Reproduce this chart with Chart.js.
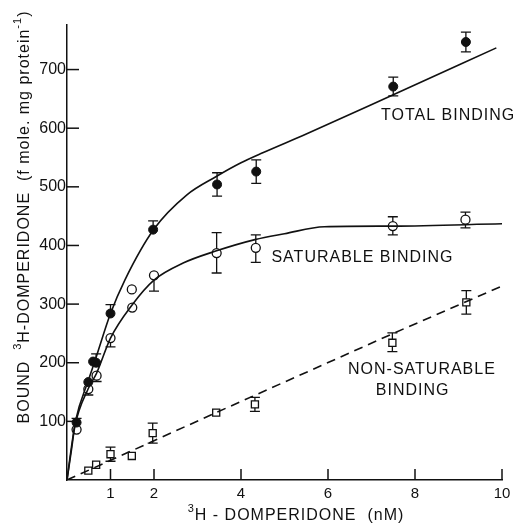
<!DOCTYPE html>
<html>
<head>
<meta charset="UTF-8">
<title>Domperidone binding</title>
<script src="https://cdn.jsdelivr.net/npm/chart.js"></script>
<style>
  html, body { margin: 0; padding: 0; background: #fff; }
  #wrap { width: 517px; height: 525px; }
</style>
</head>
<body>
<div id="wrap"><canvas id="bindChart" width="517" height="525"></canvas></div>
<script>
// tick labels
const xTicks = [1, 2, 4, 6, 8, 10];
const yTicks = [100, 200, 300, 400, 500, 600, 700];

// total binding (filled circles)
const totalX = [0.22, 0.49, 0.6, 0.67, 1.0, 1.98, 3.45, 4.35, 7.5, 9.17];
const totalY = [98, 167, 202, 200, 284, 427, 504, 526, 671, 747];
const totalUp = [7, 0, 0, 15, 15, 15, 20, 20, 16, 17];
const totalDown = [0, 0, 0, 0, 0, 0, 20, 20, 16, 17];

// saturable binding (open circles)
const satX = [0.22, 0.49, 0.68, 1.0, 1.49, 1.5, 2.0, 3.44, 4.34, 7.49, 9.16];
const satY = [86, 155, 178, 242, 325, 294, 349, 387, 396, 433, 444];
const satUp = [0, 0, 0, 0, 0, 0, 0, 35, 22, 16, 13];
const satDown = [0, 10, 10, 15, 0, 0, 27, 34, 25, 15, 14];

// non-saturable binding (open squares)
const nsX = [0.49, 0.67, 1.0, 1.49, 1.97, 3.43, 4.32, 7.48, 9.18];
const nsY = [16, 26, 44, 41, 80, 115, 129, 234, 303];
const nsUp = [0, 0, 12, 0, 17, 0, 12, 17, 20];
const nsDown = [0, 0, 12, 0, 17, 0, 12, 15, 20];

// fitted curves as drawn in the figure
const totalCurveX = [0, 0.1, 0.2, 0.5, 0.65, 1.0, 1.33, 2.0, 2.75, 3.44, 4.0, 4.5, 5.5, 7.5, 9.87];
const totalCurveY = [0, 55, 102, 172, 205, 284, 341, 428, 486, 518, 541, 558, 590, 657, 737];
const satCurveX = [0, 0.1, 0.18, 0.49, 0.68, 1.0, 1.5, 2.0, 2.67, 3.4, 4.32, 5.0, 5.92, 7.5, 10.0];
const satCurveY = [0, 50, 91, 156, 182, 242, 299, 341, 370, 390, 410, 420, 432, 433, 437];
const nsLineX = [0, 3.43, 7.5, 10.1];
const nsLineY = [0, 115, 250, 334];

const pts = (xs, ys) => xs.map((x, i) => ({ x: x, y: ys[i] }));

const FONT = '"Liberation Sans", Arial, sans-serif';

// text with superscripts, centred on (cx, cy), optionally rotated
function richText(ctx, parts, cx, cy, size, angle) {
    const big = size + 'px ' + FONT, small = Math.round(size * 0.68) + 'px ' + FONT;
    ctx.save();
    ctx.letterSpacing = '1px';
    let w = 0;
    parts.forEach(p => { ctx.font = p[1] ? small : big; w += ctx.measureText(p[0]).width; });
    ctx.translate(cx, cy);
    ctx.rotate(angle || 0);
    ctx.textBaseline = 'alphabetic';
    ctx.textAlign = 'left';
    let x = -w / 2;
    parts.forEach(p => {
        ctx.font = p[1] ? small : big;
        ctx.fillText(p[0], x, p[1] ? size * 0.36 - size * 0.5 : size * 0.36);
        x += ctx.measureText(p[0]).width;
    });
    ctx.restore();
}

const errorBars = {
    id: 'errorBars',
    beforeDatasetsDraw(chart) {
        const ctx = chart.ctx;
        const xs = chart.scales.x, ys = chart.scales.y;
        const sets = [
            [totalX, totalY, totalUp, totalDown],
            [satX, satY, satUp, satDown],
            [nsX, nsY, nsUp, nsDown]
        ];
        ctx.save();
        ctx.strokeStyle = '#111';
        ctx.lineWidth = 1.3;
        sets.forEach(([bx, by, up, down]) => {
            bx.forEach((x, i) => {
                const px = xs.getPixelForValue(x);
                const py = ys.getPixelForValue(by[i]);
                if (up[i]) {
                    const t = ys.getPixelForValue(by[i] + up[i]);
                    ctx.beginPath();
                    ctx.moveTo(px, py); ctx.lineTo(px, t);
                    ctx.moveTo(px - 5, t); ctx.lineTo(px + 5, t);
                    ctx.stroke();
                }
                if (down[i]) {
                    const b = ys.getPixelForValue(by[i] - down[i]);
                    ctx.beginPath();
                    ctx.moveTo(px, py); ctx.lineTo(px, b);
                    ctx.moveTo(px - 5, b); ctx.lineTo(px + 5, b);
                    ctx.stroke();
                }
            });
        });
        ctx.restore();
    }
};

const axisDecor = {
    id: 'axisDecor',
    afterDraw(chart) {
        const ctx = chart.ctx;
        const xs = chart.scales.x, ys = chart.scales.y;
        const a = chart.chartArea;
        ctx.save();
        ctx.strokeStyle = '#111';
        ctx.lineWidth = 1.5;
        // inward ticks
        yTicks.forEach(v => {
            const py = ys.getPixelForValue(v);
            ctx.beginPath();
            ctx.moveTo(a.left, py); ctx.lineTo(a.left + 12, py);
            ctx.stroke();
        });
        xTicks.forEach(v => {
            const px = xs.getPixelForValue(v);
            ctx.beginPath();
            ctx.moveTo(px, a.bottom); ctx.lineTo(px, a.bottom - 11);
            ctx.stroke();
        });
        ctx.fillStyle = '#111';
        // axis titles
        richText(ctx, [['3', true], ['H - DOMPERIDONE  (nM)', false]], 296, 514, 16, 0);
        richText(ctx, [['BOUND  ', false], ['3', true], ['H-DOMPERIDONE  (f mole. mg protein', false], ['-1', true], [')', false]],
            23, 217, 16, -Math.PI / 2);
        // curve labels
        ctx.font = '16px ' + FONT;
        ctx.letterSpacing = '1px';
        ctx.textBaseline = 'middle';
        ctx.textAlign = 'left';
        ctx.fillText('TOTAL BINDING', xs.getPixelForValue(7.22), ys.getPixelForValue(621));
        ctx.fillText('SATURABLE BINDING', xs.getPixelForValue(4.7), ys.getPixelForValue(379));
        ctx.fillText('NON-SATURABLE', xs.getPixelForValue(6.46), ys.getPixelForValue(188));
        ctx.fillText('BINDING', xs.getPixelForValue(7.1), ys.getPixelForValue(152));
        ctx.restore();
    }
};

new Chart(document.getElementById('bindChart').getContext('2d'), {
    type: 'scatter',
    data: {
        datasets: [
            {
                data: pts(totalCurveX, totalCurveY), showLine: true, pointRadius: 0,
                borderColor: '#111', borderWidth: 1.6, tension: 0.4, cubicInterpolationMode: 'monotone'
            },
            {
                data: pts(satCurveX, satCurveY), showLine: true, pointRadius: 0,
                borderColor: '#111', borderWidth: 1.6, tension: 0.4, cubicInterpolationMode: 'monotone'
            },
            {
                data: pts(nsLineX, nsLineY), showLine: true, pointRadius: 0,
                borderColor: '#111', borderWidth: 1.6, borderDash: [9, 6]
            },
            {
                data: pts(totalX, totalY), showLine: false, pointStyle: 'circle', pointRadius: 4.5,
                backgroundColor: '#111', borderColor: '#111', borderWidth: 1
            },
            {
                data: pts(satX, satY), showLine: false, pointStyle: 'circle', pointRadius: 4.5,
                backgroundColor: '#fff', borderColor: '#111', borderWidth: 1.3
            },
            {
                data: pts(nsX, nsY), showLine: false, pointStyle: 'rect', pointRadius: 5,
                backgroundColor: '#fff', borderColor: '#111', borderWidth: 1.3
            }
        ]
    },
    options: {
        responsive: false,
        animation: false,
        layout: { padding: { top: 25, right: 15, left: 6, bottom: 0 } },
        plugins: { legend: { display: false }, tooltip: { enabled: false } },
        scales: {
            x: {
                type: 'linear', min: 0, max: 10,
                afterBuildTicks: s => { s.ticks = xTicks.map(v => ({ value: v })); },
                afterFit: s => { s.height = 45; },
                grid: { display: false, drawTicks: false },
                border: { display: true, color: '#111', width: 1.5 },
                ticks: { color: '#111', font: { family: FONT, size: 15 }, padding: 5 }
            },
            y: {
                type: 'linear', min: 0, max: 776,
                afterBuildTicks: s => { s.ticks = yTicks.map(v => ({ value: v })); },
                afterFit: s => { s.width = 61; },
                grid: { display: false, drawTicks: false },
                border: { display: true, color: '#111', width: 1.5 },
                ticks: { color: '#111', font: { family: FONT, size: 16 }, padding: 1 }
            }
        }
    },
    plugins: [errorBars, axisDecor]
});
</script>
</body>
</html>
